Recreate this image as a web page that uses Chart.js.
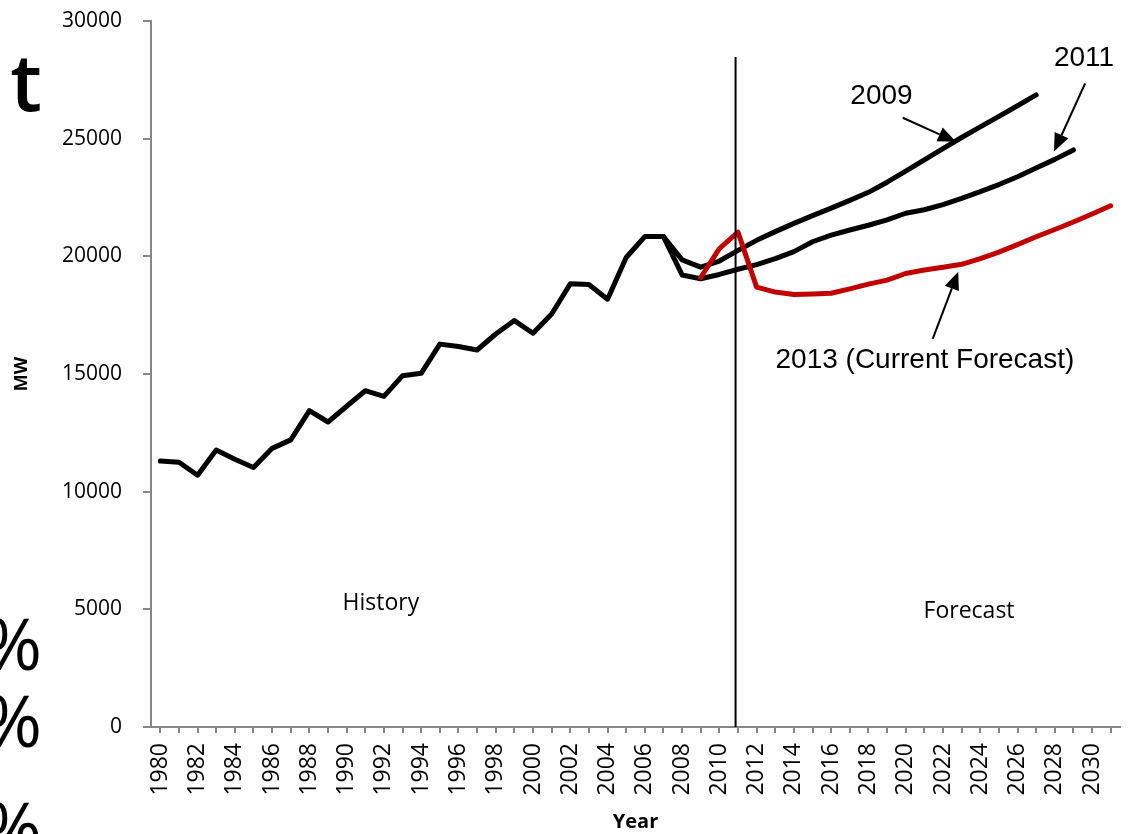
<!DOCTYPE html>
<html>
<head>
<meta charset="utf-8">
<title>Peak Demand Forecasts</title>
<script src="https://cdn.jsdelivr.net/npm/chart.js@4.4.0/dist/chart.umd.min.js"></script>
<style>
  html, body { margin: 0; padding: 0; background: #fff; overflow: hidden; }
  #wrap { position: relative; width: 1128px; height: 834px; }
  #myChart { position: absolute; left: 0; top: 0; }
  .slideText { position: absolute; left: -200px; width: 242px; text-align: right;
    font-family: "Open Sans", sans-serif; color: #000; line-height: 1; }
</style>
</head>
<body>
<div id="wrap">
  <canvas id="myChart" width="1128" height="834"></canvas>
  <div class="slideText" style="top:40px;font-size:80px;font-weight:600;">t</div>
  <div class="slideText" style="top:606px;font-size:72px;">%</div>
  <div class="slideText" style="top:683px;font-size:72px;">%</div>
  <div class="slideText" style="top:790px;font-size:72px;">%</div>
</div>
<script>
// categories (x axis)
const years = [
  "1980", "1981", "1982", "1983", "1984", "1985", "1986", "1987", "1988", "1989",
  "1990", "1991", "1992", "1993", "1994", "1995", "1996", "1997", "1998", "1999",
  "2000", "2001", "2002", "2003", "2004", "2005", "2006", "2007", "2008", "2009",
  "2010", "2011", "2012", "2013", "2014", "2015", "2016", "2017", "2018", "2019",
  "2020", "2021", "2022", "2023", "2024", "2025", "2026", "2027", "2028", "2029",
  "2030", "2031"
];

// peak load, MW
const historyStart = 1980;
const historyMW = [
  11300, 11250, 10700, 11770, 11380, 11030, 11840, 12200, 13440, 12960,
  13630, 14290, 14050, 14930, 15030, 16270, 16170, 16020, 16700, 17270,
  16730, 17550, 18830, 18800, 18180, 19950, 20840, 20840
];

const forecast2009Start = 2007;
const forecast2009MW = [
  20840, 19850, 19540, 19800, 20250, 20680, 21050, 21400, 21730, 22050,
  22380, 22720, 23150, 23620, 24100, 24580, 25050, 25500, 25950, 26400, 26860
];

const forecast2011Start = 2007;
const forecast2011MW = [
  20840, 19210, 19050, 19230, 19450, 19650, 19900, 20200, 20620, 20900,
  21120, 21320, 21550, 21830, 21980, 22200, 22460, 22750, 23050, 23380,
  23750, 24120, 24520
];

const forecast2013Start = 2009;
const forecast2013MW = [
  19100, 20330, 21030, 18690, 18480, 18380, 18400, 18430, 18620, 18820,
  18990, 19270, 19420, 19540, 19660, 19900, 20180, 20500, 20830, 21140,
  21460, 21800, 22150
];

const yTicks = { min: 0, max: 30000, step: 5000 };

// notes drawn over the plot, placed in (year, MW) units
const dividerYear = 2010.87;
const dividerTopMW = 28470;
const arrowNotes = [
  { text: "2009", at: [2018.7, 26810], from: [2019.84, 25890], to: [2022.7, 24870] },
  { text: "2011", at: [2029.57, 28430], from: [2029.63, 27350], to: [2027.96, 24450] },
  { text: "2013 (Current Forecast)", at: [2021.03, 15600], from: [2021.45, 16490], to: [2022.82, 19350] }
];
const plainNotes = [
  { text: "History", at: [1991.84, 5270] },
  { text: "Forecast", at: [2023.4, 4930] }
];

function padSeries(startYear, values) {
  const out = years.map(() => null);
  values.forEach((v, i) => { out[startYear - historyStart + i] = v; });
  return out;
}

function drawArrow(ctx, x1, y1, x2, y2) {
  const ang = Math.atan2(y2 - y1, x2 - x1);
  const headLen = 18;
  const headW = 7.5;
  const bx = x2 - headLen * Math.cos(ang);
  const by = y2 - headLen * Math.sin(ang);
  ctx.beginPath();
  ctx.moveTo(x1, y1);
  ctx.lineTo(bx, by);
  ctx.stroke();
  ctx.beginPath();
  ctx.moveTo(x2, y2);
  ctx.lineTo(bx + headW * Math.sin(ang), by - headW * Math.cos(ang));
  ctx.lineTo(bx - headW * Math.sin(ang), by + headW * Math.cos(ang));
  ctx.closePath();
  ctx.fill();
}

const notesPlugin = {
  id: "notes",
  afterDatasetsDraw(chart) {
    const { ctx, scales: { x, y } } = chart;
    const px = yr => x.getPixelForValue(yr - historyStart);
    const py = mw => y.getPixelForValue(mw);

    ctx.save();
    ctx.strokeStyle = "#000";
    ctx.fillStyle = "#000";

    // history / forecast divider
    ctx.lineWidth = 2;
    ctx.beginPath();
    ctx.moveTo(px(dividerYear), py(dividerTopMW));
    ctx.lineTo(px(dividerYear), y.bottom);
    ctx.stroke();

    ctx.lineWidth = 2;
    ctx.textAlign = "center";
    ctx.textBaseline = "middle";
    ctx.font = '28px "Liberation Sans", Arial, sans-serif';
    arrowNotes.forEach(n => {
      ctx.fillText(n.text, px(n.at[0]), py(n.at[1]));
      drawArrow(ctx, px(n.from[0]), py(n.from[1]), px(n.to[0]), py(n.to[1]));
    });

    ctx.font = '23px "Open Sans", sans-serif';
    plainNotes.forEach(n => {
      ctx.fillText(n.text, px(n.at[0]), py(n.at[1]));
    });
    ctx.restore();
  }
};

const lineStyle = {
  borderWidth: 5,
  pointRadius: 0,
  pointHoverRadius: 0,
  tension: 0,
  fill: false,
  spanGaps: false,
  borderJoinStyle: "round",
  borderCapStyle: "round"
};

const axisGrey = "#868686";

const ctx = document.getElementById("myChart").getContext("2d");

const myLineChart = new Chart(ctx, {
  type: "line",
  data: {
    labels: years,
    datasets: [
      { label: "History", data: padSeries(historyStart, historyMW), borderColor: "#000", order: 2, ...lineStyle },
      { label: "2009 Forecast", data: padSeries(forecast2009Start, forecast2009MW), borderColor: "#000", order: 2, ...lineStyle },
      { label: "2011 Forecast", data: padSeries(forecast2011Start, forecast2011MW), borderColor: "#000", order: 2, ...lineStyle },
      { label: "2013 Forecast", data: padSeries(forecast2013Start, forecast2013MW), borderColor: "#C00000", order: 1, ...lineStyle }
    ]
  },
  options: {
    responsive: false,
    animation: false,
    layout: { padding: { top: 21, right: 8, bottom: 0, left: 0 } },
    plugins: {
      legend: { display: false },
      tooltip: { enabled: false },
      title: { display: false }
    },
    scales: {
      x: {
        type: "category",
        offset: true,
        grid: {
          display: true, drawOnChartArea: false, drawTicks: true,
          tickLength: 6, color: axisGrey, lineWidth: 2, offset: false
        },
        border: { display: true, color: axisGrey, width: 2 },
        ticks: {
          autoSkip: false, maxRotation: 90, minRotation: 90, padding: 10,
          color: "#000",
          font: { family: "Open Sans", size: 23 },
          callback(value, index) {
            return index % 2 === 0 ? this.getLabelForValue(value) : "";
          }
        },
        title: {
          display: true, text: "Year", color: "#000", padding: 0,
          font: { family: "Open Sans", size: 20, weight: "bold" }
        },
        afterFit(scale) {
          scale.height = 107;
          scale.paddingLeft = 0;
          scale.paddingRight = 0;
        }
      },
      y: {
        min: yTicks.min,
        max: yTicks.max,
        grid: {
          display: true, drawOnChartArea: false, drawTicks: true,
          tickLength: 8, color: axisGrey, lineWidth: 2
        },
        border: { display: true, color: axisGrey, width: 2 },
        ticks: {
          stepSize: yTicks.step, padding: 21, color: "#000",
          font: { family: "Open Sans", size: 21 },
          callback: value => String(value)
        },
        title: {
          display: true, text: "MW", color: "#000", padding: { top: 11, bottom: 0 },
          font: { family: "Open Sans", size: 18, weight: "bold" }
        },
        afterFit(scale) {
          scale.width = 151;
          scale.paddingTop = 0;
          scale.paddingBottom = 0;
        }
      }
    }
  },
  plugins: [notesPlugin]
});
</script>
</body>
</html>
